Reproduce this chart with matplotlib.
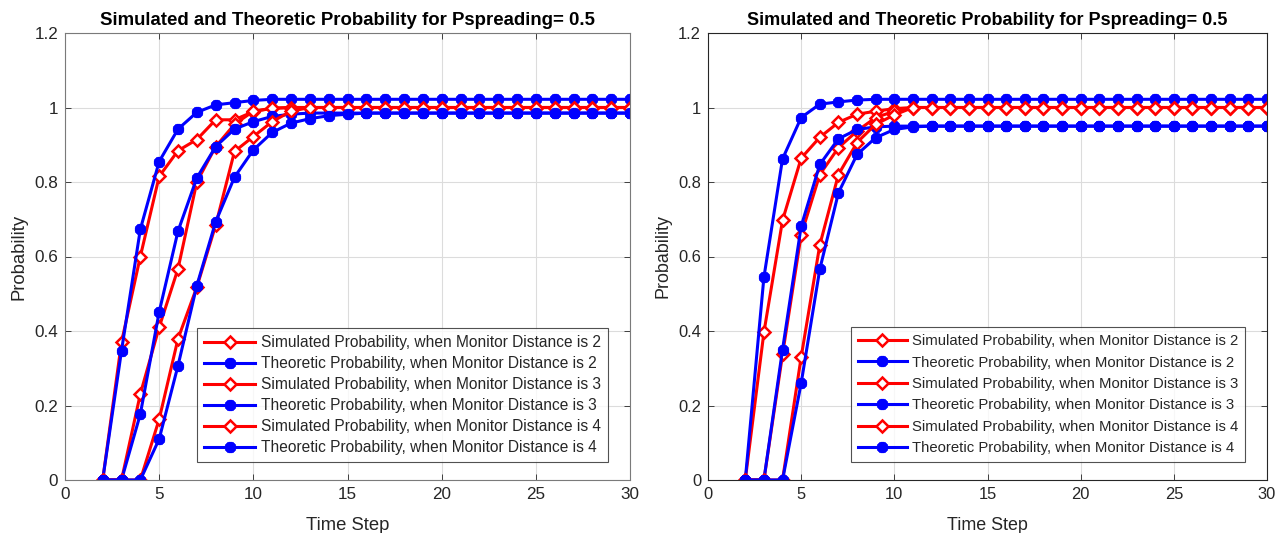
import numpy as np
import matplotlib
matplotlib.use("Agg")
import matplotlib.pyplot as plt

plt.rcParams['font.family'] = ['Liberation Sans', 'DejaVu Sans']

# time steps 2..30
steps = list(range(2, 31))

# left panel
sim2_L = [0, 0.37, 0.60, 0.815, 0.884, 0.914, 0.967, 0.967, 0.989, 0.998] + [1.0] * 19
theo2_L = [0, 0.347, 0.673, 0.855, 0.942, 0.987, 1.007, 1.013, 1.019] + [1.022] * 20
sim3_L = [0, 0, 0.231, 0.41, 0.567, 0.80, 0.895, 0.955, 0.99, 0.998] + [1.0] * 19
theo3_L = [0, 0, 0.177, 0.451, 0.668, 0.811, 0.895, 0.942, 0.962, 0.976, 0.982] + [0.985] * 18
sim4_L = [0, 0, 0, 0.163, 0.379, 0.518, 0.684, 0.882, 0.922, 0.962, 0.99] + [1.0] * 18
theo4_L = [0, 0, 0, 0.11, 0.307, 0.522, 0.693, 0.813, 0.886, 0.933, 0.958, 0.97, 0.978, 0.982] + [0.985] * 15

# right panel
sim2_R = [0, 0.396, 0.697, 0.864, 0.92, 0.96, 0.982, 0.99, 0.997] + [1.0] * 20
theo2_R = [0, 0.544, 0.862, 0.973, 1.009, 1.015, 1.02] + [1.022] * 22
sim3_R = [0, 0, 0.337, 0.658, 0.82, 0.892, 0.937, 0.973, 0.99] + [1.0] * 20
theo3_R = [0, 0, 0.35, 0.681, 0.847, 0.916, 0.941, 0.948] + [0.95] * 21
sim4_R = [0, 0, 0, 0.33, 0.631, 0.82, 0.906, 0.955, 0.98] + [1.0] * 20
theo4_R = [0, 0, 0, 0.26, 0.566, 0.771, 0.874, 0.919, 0.941, 0.948] + [0.95] * 19

distances = [2, 3, 4]
title = 'Simulated and Theoretic Probability for Pspreading= 0.5'
txt = '#262626'


def draw(ax, sims, theos, edge, legend_box, fs):
    for d, s, t in zip(distances, sims, theos):
        ax.plot(steps, s, color='red', lw=2.2, marker='D', ms=6.5, mfc='white',
                mec='red', mew=1.8,
                label='Simulated Probability, when Monitor Distance is %d' % d)
        ax.plot(steps, t, color='blue', lw=2.2, marker=(8, 2, 0), ms=8,
                mec='blue', mew=2.6,
                label='Theoretic Probability, when Monitor Distance is %d' % d)
    ax.set_xlim(0, 30)
    ax.set_ylim(0, 1.2)
    ax.set_xticks(range(0, 31, 5))
    ax.set_yticks(np.arange(0, 1.21, 0.2))
    ax.set_yticklabels(['0', '0.2', '0.4', '0.6', '0.8', '1', '1.2'])
    ax.grid(True, color='#dcdcdc', lw=0.8)
    ax.set_axisbelow(True)
    ax.tick_params(direction='in', top=True, right=True, labelsize=fs['tick'],
                   colors=txt, length=4, width=0.6, pad=5)
    for sp in ax.spines.values():
        sp.set_color(edge)
        sp.set_linewidth(0.8)
    ax.set_xlabel('Time Step', fontsize=fs['label'], color=txt, labelpad=11)
    ax.set_ylabel('Probability', fontsize=fs['label'], color=txt, labelpad=5)
    ax.set_title(title, fontsize=fs['title'], fontweight='bold', color='black', pad=6)
    leg = ax.legend(loc='lower left', bbox_to_anchor=legend_box, fontsize=fs['legend'],
                    frameon=True, fancybox=False, edgecolor='#262626',
                    handlelength=3.3, labelspacing=fs['spacing'], borderpad=0.45,
                    handletextpad=0.35, borderaxespad=0)
    leg.get_frame().set_linewidth(0.8)
    for t in leg.get_texts():
        t.set_color(txt)


fig = plt.figure(figsize=(12.77, 5.33), dpi=100)
W, H = 1277, 533
axL = fig.add_axes([65 / W, 1 - 480 / H, 565 / W, 447 / H])
axR = fig.add_axes([708 / W, 1 - 480 / H, 559 / W, 447 / H])

draw(axL, [sim2_L, sim3_L, sim4_L], [theo2_L, theo3_L, theo4_L], '#7a7a7a',
     ((197 - 65) / 565, (480 - 462) / 447),
     {'tick': 12.3, 'label': 13.3, 'title': 13.4, 'legend': 11.2, 'spacing': 0.38})
draw(axR, [sim2_R, sim3_R, sim4_R], [theo2_R, theo3_R, theo4_R], '#262626',
     ((851 - 708) / 559, (480 - 462) / 447),
     {'tick': 11.9, 'label': 12.9, 'title': 13.0, 'legend': 10.7, 'spacing': 0.5})

fig.savefig('out.png', dpi=100)
